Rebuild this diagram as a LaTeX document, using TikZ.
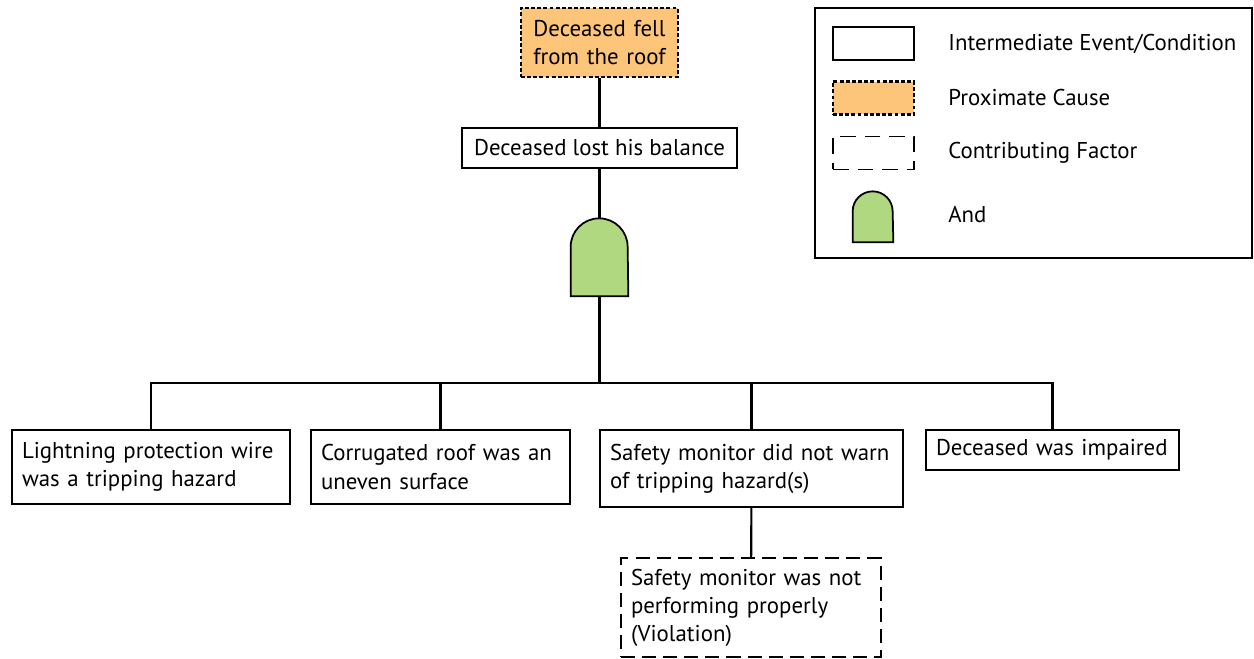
\documentclass[tikz,border=0pt]{standalone}
\usepackage{fontspec}
\setmainfont{PT Sans}
\usepackage{tikz}

\definecolor{proxorange}{RGB}{252,197,122}
\definecolor{gategreen}{RGB}{176,216,128}
\newcommand{\boxfont}{\fontsize{13pt}{16pt}\selectfont}

\tikzset{
  event/.style={draw, line width=0.8pt, fill=white, inner xsep=0.2cm, inner ysep=0pt,
    align=left, font=\boxfont},
  proximate/.style={event, fill=proxorange, line width=1.4pt,
    dash pattern=on 2.2pt off 1.3pt, align=center},
  factor/.style={event, dash pattern=on 8pt off 4pt},
  gatebox/.style={minimum width=1.14cm, minimum height=1.56cm, inner sep=0pt},
  andgate/.style={draw, line width=1pt, fill=gategreen},
  link/.style={line width=1.2pt},
  keytext/.style={anchor=west, inner sep=0pt, font=\boxfont}
}

\begin{document}
\begin{tikzpicture}[x=0.02cm, y=0.02cm]
\useasboundingbox (0,0) rectangle (1254,-659);

% top of the tree
\node[proximate, text width=2.74cm, minimum height=1.38cm] (fell) at (599.5,-42.5)
  {Deceased fell\\from the roof};
\node[event, minimum width=5.5cm, minimum height=0.8cm] (balance) at (599.5,-148)
  {Deceased lost his balance};
\node[gatebox] (gate) at (599.5,-257) {};
\draw[andgate] (gate.south west) -- ++(0,49.5)
  arc[start angle=180, end angle=0, radius=28.5] -- (gate.south east) -- cycle;
\coordinate (bus) at (599.5,-383);

% causes
\node[event, text width=5.16cm, minimum height=1.48cm] (wire) at (151,-467)
  {Lightning protection wire\\was a tripping hazard};
\node[event, text width=4.78cm, minimum height=1.48cm] (roof) at (440.5,-467)
  {Corrugated roof was an\\uneven surface};
\node[event, text width=5.66cm, minimum height=1.54cm] (monitor) at (751.5,-468.5)
  {Safety monitor did not warn\\of tripping hazard(s)};
\node[event, text width=4.66cm, minimum height=0.8cm] (impaired) at (1052.5,-450)
  {Deceased was impaired};
\node[factor, text width=4.8cm, minimum height=1.98cm] (violation) at (751,-607.5)
  {Safety monitor was not\\performing properly\\(Violation)};

% connectors
\draw[link] (fell) -- (balance);
\draw[link] (balance) -- (gate);
\draw[link] (gate) -- (bus);
\draw[link] (wire.north) |- (bus) -| (impaired.north);
\draw[link] (roof.north) -- (roof.north |- bus);
\draw[link] (monitor.north) -- (monitor.north |- bus);
\draw[link] (monitor) -- (violation);

% legend
\node[draw, line width=1.2pt, minimum width=8.74cm, minimum height=5cm, inner sep=0pt]
  (legend) at (1033.5,-133) {};
\node[event, minimum width=1.62cm, minimum height=0.66cm] (keyevent) at (873.5,-43.5) {};
\node[proximate, minimum width=1.62cm, minimum height=0.66cm] (keyprox) at (873.5,-98) {};
\node[factor, dash pattern=on 9pt off 5pt, minimum width=1.62cm, minimum height=0.66cm]
  (keyfactor) at (873.5,-153) {};
\node[gatebox, minimum width=0.8cm, minimum height=1.02cm] (keygate) at (873,-216.5) {};
\draw[andgate] (keygate.south west) -- ++(0,31)
  arc[start angle=180, end angle=0, radius=20] -- (keygate.south east) -- cycle;
\node[keytext] (keyeventtext) at (948,-44) {Intermediate Event/Condition};
\node[keytext] (keyproxtext) at (948,-98) {Proximate Cause};
\node[keytext] (keyfactortext) at (948,-153) {Contributing Factor};
\node[keytext] (keygatetext) at (948,-215) {And};
\end{tikzpicture}
\end{document}
